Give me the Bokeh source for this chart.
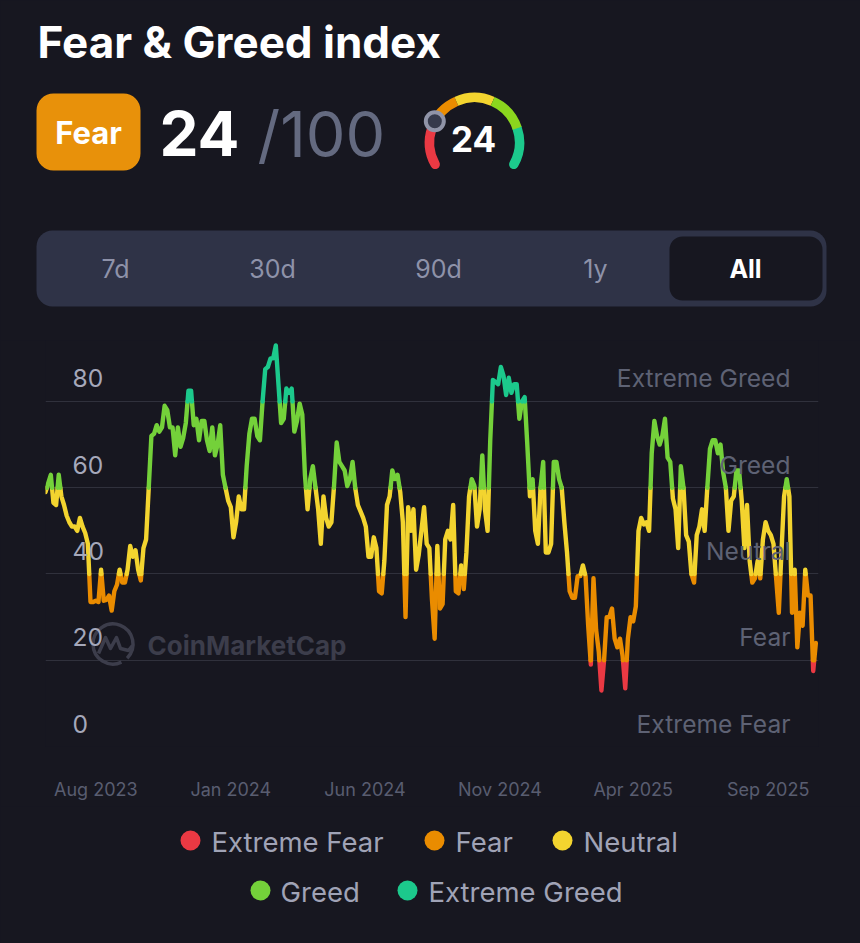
from bokeh.plotting import figure
from bokeh.layouts import column
from bokeh.core.properties import value
from bokeh.models import Range1d, FixedTicker, GlobalInlineStyleSheet, DatetimeTickFormatter
from bokeh.embed import file_html
from bokeh.resources import INLINE
import pandas as pd
import math

# index values, one every 3 days
fng = [
    59, 61, 63, 56.5, 56, 63, 58, 56, 53.5, 52, 51, 51, 50, 53, 51, 49.5, 47, 33.5, 33.5, 33.8,
    33.5, 41, 33.8, 34, 35, 31.5, 36, 37.5, 41, 38, 38, 41, 46.5, 44, 45.5, 41, 38.5, 46, 48, 60,
    72, 72.5, 74.5, 73, 74, 79, 78, 74, 74, 67.5, 74, 69.5, 71.5, 75, 82.5, 82.5, 74.5, 76, 71, 75.5,
    75.5, 71, 68.5, 74, 67.5, 70, 74.5, 63, 60, 57, 55.5, 48.5, 52, 58, 55, 55, 65, 72.5, 76, 76,
    72, 71, 80, 87.5, 88, 90, 90, 93, 84, 75, 76, 83, 82, 83, 73, 75.5, 79.5, 77, 63, 55,
    62, 65, 60, 55, 47, 58, 53, 51, 52, 60.5, 70.5, 66, 65, 64, 60.4, 62, 66, 60, 56, 54.5,
    53, 51, 44, 44, 48.5, 46, 36, 35.5, 43, 56, 58, 64, 62, 63, 59, 52, 30, 55.5, 50, 55,
    41, 44.5, 50, 55.5, 47, 46, 34, 25, 46.5, 32, 33, 48, 50, 48, 56, 36, 35.5, 42, 36.5, 45,
    58, 62, 60.5, 51, 55, 67.5, 55, 50, 71, 85, 84.5, 84, 88, 86, 81.5, 85.5, 82, 84, 84, 76,
    80, 81, 70, 58, 62, 50, 47, 60, 66, 45, 45, 47, 66, 66, 62, 60, 52, 45, 36, 34.5,
    34.5, 39.5, 39.5, 42, 39.5, 28, 19, 39, 27, 22, 13, 20, 30, 30, 32, 25, 23, 25, 21, 13.5,
    25, 30, 29, 32.5, 50, 53, 51.5, 52, 50, 68, 75.5, 72, 70, 72, 76, 67, 66, 57.5, 55, 46,
    65, 60, 49, 47.5, 40, 38, 49, 51, 55, 50, 60, 69, 71, 71, 68, 70, 63.5, 60, 50, 57,
    58, 64, 64, 57, 46, 56, 43, 38, 39, 43, 39, 48, 52, 50, 49, 47, 39, 31, 45, 58,
    62, 58, 31, 41, 23, 31, 28, 41, 35, 35, 17.5, 24,
]
start_date = "2023-06-05"
step_days = 3

band_names = ["Extreme Fear", "Fear", "Neutral", "Greed", "Extreme Greed"]
band_limits = [0, 20, 40, 60, 80, 100]
band_colors = ["#EA3943", "#EA8C00", "#F3D42F", "#74D13A", "#1CC98C"]

y_ticks = [80, 60, 40, 20, 0]
zone_labels = ["Extreme Greed", "Greed", "Neutral", "Fear", "Extreme Fear"]
x_labels = ["Aug 2023", "Jan 2024", "Jun 2024", "Nov 2024", "Apr 2025", "Sep 2025"]
tabs = ["7d", "30d", "90d", "1y", "All"]
current = 24

BG = "#171720"
FONT = value("Inter")


def split_bands(xs, ys):
    # cut the line where it crosses a band limit so every band gets its own colour
    out = {i: ([], []) for i in range(len(band_names))}
    cur = None
    for k in range(len(xs) - 1):
        x0, y0, x1, y1 = xs[k], ys[k], xs[k + 1], ys[k + 1]
        cuts = [(lim - y0) / (y1 - y0) for lim in band_limits[1:-1] if min(y0, y1) < lim < max(y0, y1)]
        ts = [0] + sorted(cuts) + [1]
        for a, b in zip(ts[:-1], ts[1:]):
            mid = y0 + (y1 - y0) * (a + b) / 2
            band = min(int(mid // 20), 4)
            if band != cur:
                out[band][0].append([x0 + (x1 - x0) * a])
                out[band][1].append([y0 + (y1 - y0) * a])
                cur = band
            out[band][0][-1].append(x0 + (x1 - x0) * b)
            out[band][1][-1].append(y0 + (y1 - y0) * b)
    return out


def blank_fig(height, y_top, y_bottom):
    f = figure(width=860, height=height, x_range=Range1d(0, 860), y_range=Range1d(y_bottom, y_top),
               output_backend="svg", toolbar_location=None, min_border=0, frame_align=False,
               background_fill_color=BG, border_fill_color=BG, outline_line_color=None)
    f.axis.visible = False
    f.grid.visible = False
    return f


# header ------------------------------------------------------------------
head = blank_fig(340, 0, 340)
head.text([37], [41], ["Fear & Greed index"], text_font=FONT, text_font_style="bold", text_font_size="44px",
          text_color="#ffffff", text_baseline="middle")
head.quad(left=[36], right=[140], top=[93], bottom=[170], border_radius=17, fill_color="#E8910A", line_color=None)
head.text([88], [132], ["Fear"], text_font=FONT, text_font_style="bold", text_font_size="31px",
          text_color="#ffffff", text_align="center", text_baseline="middle")
head.text([159], [133], [str(current)], text_font=FONT, text_font_style="bold", text_font_size="62px",
          text_color="#ffffff", text_baseline="middle")
head.text([257], [133], ["/100"], text_font=FONT, text_font_size="63px", text_color="#646A80", text_baseline="middle")


# gauge: same 5 bands over a 238 degree sweep
def gauge_angle(v):
    return 209 - v * 238 / 100


gauge_colors = ["#EA3943", "#EA8C00", "#F3D42F", "#8BD61E", "#1CC98C"]
for i in [0, 4, 1, 2, 3]:
    head.arc([474], [142], radius=45, start_angle=gauge_angle(band_limits[i]), end_angle=gauge_angle(band_limits[i + 1]),
             start_angle_units="deg", end_angle_units="deg", direction="clock", line_color=gauge_colors[i],
             line_width=9.5, line_cap="round" if i in (0, 4) else "butt")
a = math.radians(gauge_angle(current))
head.circle([474 + 45 * math.cos(a)], [142 - 45 * math.sin(a)], radius=9,
            fill_color="#363A4C", line_color="#9094A8", line_width=4)
head.text([473], [138], [str(current)], text_font=FONT, text_font_style="bold", text_font_size="35px", text_color="#ffffff",
          text_align="center", text_baseline="middle")

# period tabs
head.quad(left=[36], right=[826], top=[230], bottom=[306], border_radius=16, fill_color="#2F3347", line_color=None)
head.quad(left=[669], right=[822], top=[236], bottom=[300], border_radius=13, fill_color=BG, line_color=None)
head.text([115, 272, 438, 595], [268] * 4, tabs[:4], text_font=FONT, text_font_size="25px", text_color="#8E92A9",
          text_align="center", text_baseline="middle")
head.text([745], [268], tabs[4:], text_font=FONT, text_font_style="bold", text_font_size="25px", text_color="#ffffff",
          text_align="center", text_baseline="middle")

# chart -------------------------------------------------------------------
dates = pd.date_range(start_date, periods=len(fng), freq=f"{step_days}D")
xs = [d.timestamp() * 1000 for d in dates]
x_end = pd.Timestamp(start_date) + pd.Timedelta(days=876)

p = figure(width=860, height=466, x_axis_type="datetime", x_range=Range1d(pd.Timestamp(start_date), x_end), y_range=Range1d(0, 94.14),
           output_backend="svg", toolbar_location=None, min_border_left=45, min_border_right=42, min_border_top=0,
           min_border_bottom=60, frame_align=False, background_fill_color=BG, border_fill_color=BG, outline_line_color=None)
p.extra_x_ranges["px"] = Range1d(45, 818)
p.extra_y_ranges["px"] = Range1d(746, 340)

p.yaxis.visible = False
p.xgrid.visible = False
p.ygrid.ticker = FixedTicker(ticks=y_ticks)
p.ygrid.grid_line_color = "#30313C"
p.ygrid.grid_line_width = 1

ax = p.xaxis[0]
ax.ticker = FixedTicker(ticks=[pd.to_datetime(s, format="%b %Y").timestamp() * 1000 for s in x_labels])
ax.formatter = DatetimeTickFormatter(months="%b %Y", days="%b %Y", hours="%b %Y", years="%b %Y", context=None)
ax.axis_line_color = None
ax.major_tick_line_color = None
ax.minor_tick_line_color = None
ax.major_tick_out = 0
ax.major_label_standoff = 32
ax.major_label_text_font = "Inter"
ax.major_label_text_font_size = "18px"
ax.major_label_text_color = "#595D70"

# watermark under the line
p.text([147], [645], ["CoinMarketCap"], x_range_name="px", y_range_name="px", text_font=FONT, text_font_style="bold",
       text_font_size="26px", text_color="#3C3D4B", text_baseline="middle")
p.arc([112.5], [643.5], radius=20, start_angle=-45, end_angle=-65, start_angle_units="deg", end_angle_units="deg",
      direction="anticlock", x_range_name="px", y_range_name="px", line_color="#3C3D4B", line_width=3.5)
p.line([98, 105, 110, 116, 120, 128, 132], [653, 637, 648, 637, 648, 650, 645], x_range_name="px", y_range_name="px",
       line_color="#3C3D4B", line_width=3.5, line_join="round")

segments = split_bands(xs, fng)
for i in range(len(band_names)):
    p.multi_line(segments[i][0], segments[i][1], line_color=band_colors[i], line_width=4.4, line_join="round", line_cap="round")

# labels sit above their grid line
p.text([72] * 5, y_ticks, [str(v) for v in y_ticks], x_range_name="px", text_font=FONT, text_font_size="24.6px",
       text_color="#A5A8BA", text_baseline="middle", y_offset=-23)
p.text([790] * 5, y_ticks, zone_labels, x_range_name="px", text_font=FONT, text_font_size="24.6px",
       text_color="#5E6274", text_align="right", text_baseline="middle", y_offset=-23)

# legend ------------------------------------------------------------------
leg = blank_fig(137, 806, 943)
leg.scatter([190, 434, 562, 260, 407], [840, 840, 840, 890, 890], size=20, marker="circle", color=band_colors, line_color=None)
leg.text([211, 455, 583, 280, 428], [841, 841, 841, 891, 891], band_names, text_font=FONT, text_font_size="27.5px",
         text_color="#A0A3B6", text_baseline="middle")

page = column(head, p, leg, spacing=0, stylesheets=[GlobalInlineStyleSheet(css=f"html, body {{ background: {BG}; }}")])
open("out.html", "w").write(file_html(page, INLINE))
